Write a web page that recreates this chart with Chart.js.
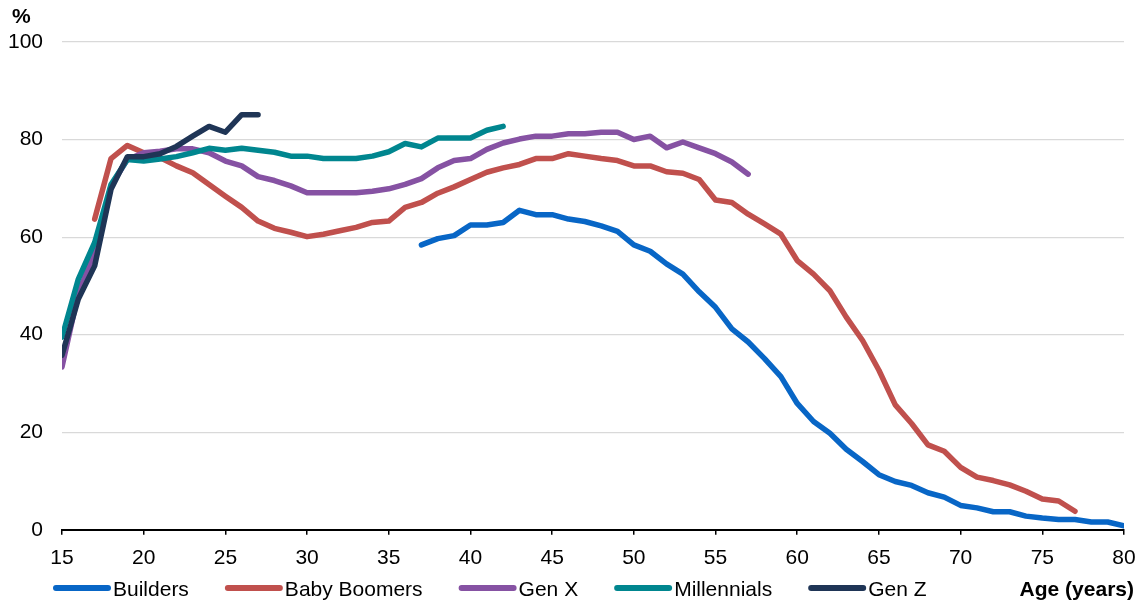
<!DOCTYPE html>
<html>
<head>
<meta charset="utf-8">
<script src="https://cdn.jsdelivr.net/npm/chart.js@4/dist/chart.umd.min.js"></script>
<style>
  body { margin: 0; background: #fff; }
  #wrap { width: 1141px; height: 602px; }
</style>
</head>
<body>
<div id="wrap"><canvas id="grafico"></canvas></div>
<script>
// edades (eje x) y series
const ageTicks = [15, 20, 25, 30, 35, 40, 45, 50, 55, 60, 65, 70, 75, 80];

const buildersFrom = 37;
const builders = [58.4, 59.7, 60.3, 62.5, 62.5, 63.0, 65.5, 64.6, 64.6, 63.7, 63.2, 62.3, 61.2, 58.4, 57.1,
  54.5, 52.4, 48.8, 45.6, 41.2, 38.5, 35.1, 31.4, 25.9, 22.2, 19.8, 16.5, 14.0, 11.3, 9.9, 9.1, 7.6, 6.7,
  5.0, 4.5, 3.7, 3.7, 2.8, 2.4, 2.1, 2.1, 1.6, 1.6, 0.8];

const boomersFrom = 17;
const boomers = [63.7, 76.1, 78.8, 77.3, 76.3, 74.6, 73.2, 70.8, 68.4, 66.1, 63.3, 61.8, 61.0, 60.1, 60.6,
  61.3, 62.0, 63.0, 63.3, 66.1, 67.1, 69.0, 70.3, 71.8, 73.3, 74.2, 74.9, 76.1, 76.1, 77.1, 76.6, 76.1,
  75.7, 74.6, 74.6, 73.4, 73.1, 71.8, 67.6, 67.1, 64.7, 62.7, 60.6, 55.2, 52.4, 49.0, 43.6, 38.8, 32.7,
  25.6, 21.8, 17.4, 16.1, 12.8, 10.8, 10.1, 9.2, 7.9, 6.3, 5.9, 3.8];

const genXFrom = 15;
const genX = [33.4, 48.5, 57.0, 70.5, 75.9, 77.3, 77.6, 78.1, 78.1, 77.3, 75.6, 74.6, 72.4, 71.6, 70.5,
  69.1, 69.1, 69.1, 69.1, 69.4, 69.9, 70.8, 72.0, 74.2, 75.7, 76.1, 78.0, 79.3, 80.1, 80.7, 80.7, 81.2,
  81.2, 81.5, 81.5, 80.0, 80.7, 78.3, 79.5, 78.3, 77.1, 75.4, 72.9];

const millennialsFrom = 15;
const millennials = [39.5, 51.4, 58.9, 70.8, 75.9, 75.6, 76.0, 76.5, 77.3, 78.2, 77.8, 78.2, 77.8, 77.4,
  76.6, 76.6, 76.1, 76.1, 76.1, 76.6, 77.5, 79.2, 78.5, 80.3, 80.3, 80.3, 81.9, 82.7];

const genZFrom = 15;
const genZ = [35.8, 47.3, 54.1, 69.8, 76.5, 76.5, 77.1, 78.6, 80.7, 82.7, 81.5, 85.1, 85.1];

function puntos(valores, desde) {
  return valores.map((v, i) => ({ x: desde + i, y: v }));
}

function serie(label, valores, desde, color, orden) {
  return {
    label: label,
    data: puntos(valores, desde),
    borderColor: color,
    backgroundColor: color,
    borderWidth: 5.5,
    pointRadius: 0,
    tension: 0,
    borderCapStyle: 'round',
    borderJoinStyle: 'round',
    order: orden
  };
}

const FONT = "'Liberation Sans', Arial, sans-serif";

// leyenda abajo, "%" arriba y "Age (years)" a la derecha
const textos = {
  id: 'textos',
  afterDraw(chart) {
    const ctx = chart.ctx;
    ctx.save();
    ctx.textBaseline = 'middle';
    ctx.fillStyle = '#000';

    ctx.font = 'bold 21px ' + FONT;
    ctx.textAlign = 'left';
    ctx.fillText('%', 12, 17);
    ctx.textAlign = 'right';
    ctx.fillText('Age (years)', 1134, 590);

    ctx.font = '21px ' + FONT;
    ctx.textAlign = 'left';
    let x = 56;
    const y = 590;
    chart.data.datasets.forEach(ds => {
      ctx.strokeStyle = ds.borderColor;
      ctx.lineWidth = 6;
      ctx.lineCap = 'round';
      ctx.beginPath();
      ctx.moveTo(x, y - 2);
      ctx.lineTo(x + 52, y - 2);
      ctx.stroke();
      const w = ctx.measureText(ds.label).width;
      ctx.fillText(ds.label, x + 57, y);
      x += 57 + w + 39;
    });
    ctx.restore();
  }
};

const ctx = document.getElementById('grafico').getContext('2d');
new Chart(ctx, {
  type: 'line',
  data: {
    datasets: [
      serie('Builders', builders, buildersFrom, '#0866C6', 5),
      serie('Baby Boomers', boomers, boomersFrom, '#C0504D', 4),
      serie('Gen X', genX, genXFrom, '#8652A3', 3),
      serie('Millennials', millennials, millennialsFrom, '#00868F', 2),
      serie('Gen Z', genZ, genZFrom, '#1F3556', 1)
    ]
  },
  options: {
    responsive: true,
    maintainAspectRatio: false,
    animation: false,
    layout: { padding: { left: 7, right: 17, top: 42, bottom: 20 } },
    plugins: {
      legend: { display: false },
      tooltip: { enabled: false }
    },
    scales: {
      x: {
        type: 'linear',
        min: 15,
        max: 80,
        afterBuildTicks: axis => { axis.ticks = ageTicks.map(v => ({ value: v })); },
        afterFit: axis => { axis.paddingRight = 0; },
        ticks: { color: '#000', font: { family: FONT, size: 21 }, padding: 11, maxRotation: 0 },
        grid: { drawOnChartArea: false, drawTicks: true, tickLength: 5, color: '#000', lineWidth: 1.5 },
        border: { display: true, color: '#000', width: 2 }
      },
      y: {
        min: 0,
        max: 100,
        afterFit: axis => { axis.width = 55; },
        ticks: { stepSize: 20, color: '#000', font: { family: FONT, size: 21 }, padding: 19 },
        grid: { color: '#D9D9D9', lineWidth: 1.2, drawTicks: false },
        border: { display: false }
      }
    }
  },
  plugins: [textos]
});
</script>
</body>
</html>
